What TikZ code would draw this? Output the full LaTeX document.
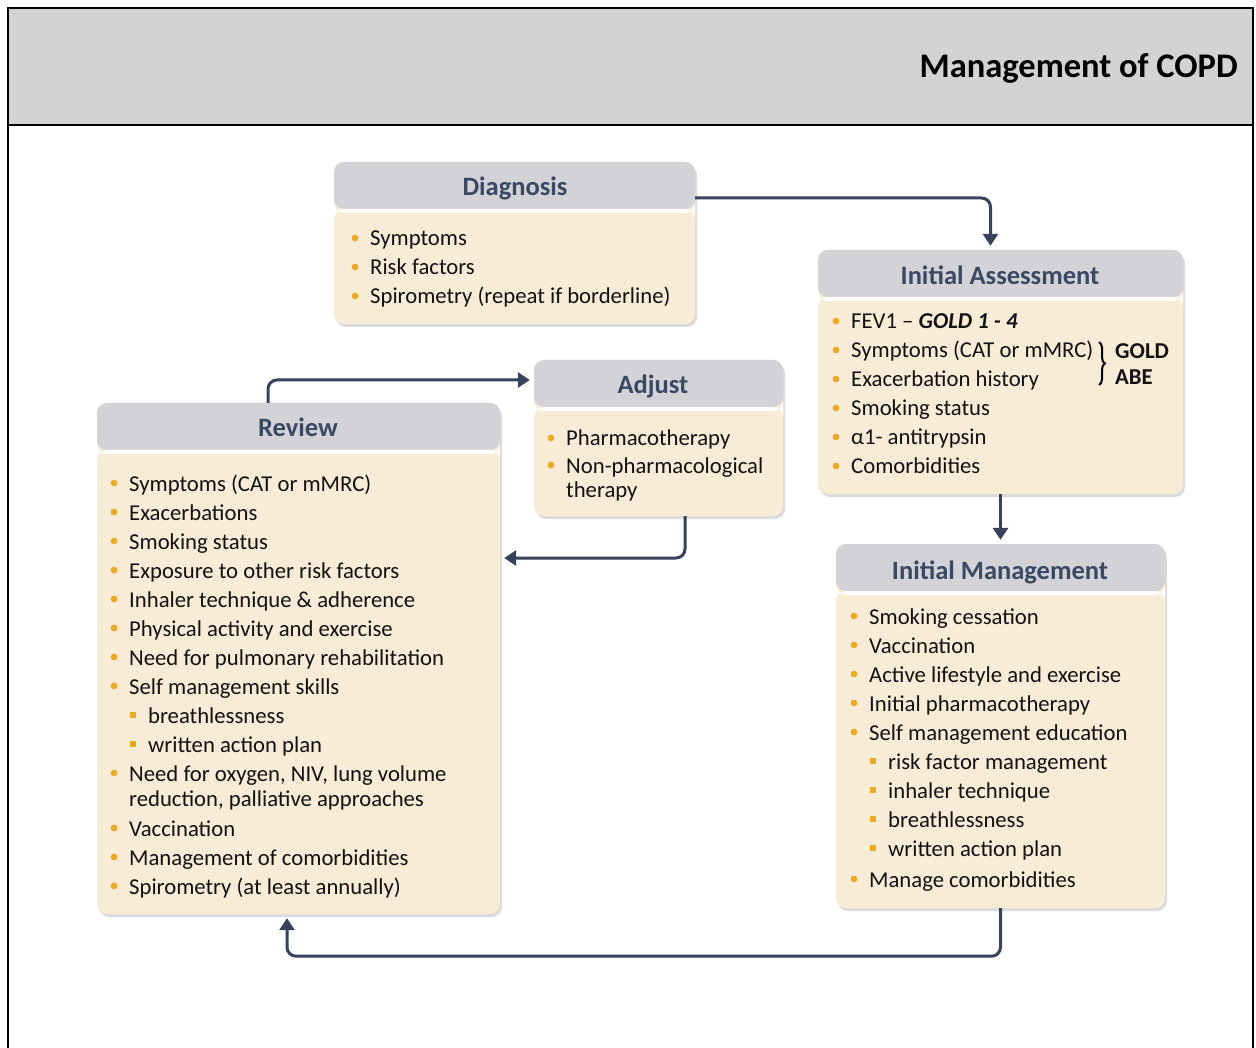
\documentclass[tikz,border=0pt]{standalone}
\usepackage{fontspec}
\setmainfont{Carlito}
\usetikzlibrary{arrows.meta,shadows,decorations.pathreplacing,calc}
\definecolor{hdrc}{HTML}{D2D2D7}
\definecolor{bodyc}{HTML}{F9ECD7}
\definecolor{ttlc}{HTML}{3A4963}
\definecolor{bulc}{HTML}{EBAA22}
\definecolor{arrc}{HTML}{36435A}
\definecolor{topc}{HTML}{D3D3D3}
\definecolor{txtc}{HTML}{111111}
\newcounter{itm}
\newcommand\bitem[3]{\stepcounter{itm}\fill[bulc] (#1,#2) circle (3.4pt);\node[txt] (t\arabic{itm}) at ({#1+15},#2) {#3};}
\newcommand\sitem[3]{\stepcounter{itm}\fill[bulc] ({#1-3},{#2-3}) rectangle ++(6,6);\node[txt] (t\arabic{itm}) at ({#1+15},#2) {#3};}
\newcommand\pitem[3]{\stepcounter{itm}\node[txt] (t\arabic{itm}) at ({#1+15},#2) {#3};}
\tikzset{
  txt/.style={anchor=west, inner sep=0pt, text height=21pt, text depth=5pt, text=txtc, font=\fontsize{22.7}{27}\selectfont},
  ttl/.style={anchor=base, inner sep=0pt, text=ttlc, font=\bfseries\fontsize{26.5}{30}\selectfont},
  box/.style={fill=bodyc, rounded corners=10pt, inner sep=0pt,
    drop shadow={opacity=0.28, shadow xshift=2pt, shadow yshift=-3pt},
    path picture={
      \fill[hdrc] (path picture bounding box.north west) rectangle ([yshift=-47pt]path picture bounding box.north east);
      \fill[white] ([yshift=-47pt]path picture bounding box.north west) rectangle ([yshift=-51pt]path picture bounding box.north east);
    }},
  arr/.style={draw=arrc, line width=3pt, rounded corners=9pt, -{Triangle[width=15pt,length=12pt]}, shorten >=4pt}
}
\begin{document}
\begin{tikzpicture}[x=1pt, y=-1pt]
\useasboundingbox (0,0) rectangle (1256,1048);
% frame
\fill[white] (0,0) rectangle (1256,1048);
\draw[line width=2pt, fill=topc] (8,8) rectangle (1253,125);
\draw[line width=2pt] (8,125) -- (8,1050);
\draw[line width=2pt] (1253,125) -- (1253,1050);
\node[anchor=east, inner sep=0pt, font=\bfseries\fontsize{34.5}{38}\selectfont] (head) at (1238,68) {Management of COPD};
% boxes
\node[box, minimum width=361pt, minimum height=162pt] (diag) at (514.5,243) {};
\node[box, minimum width=365pt, minimum height=244pt] (ia) at (1000.5,372) {};
\node[box, minimum width=249pt, minimum height=156pt] (adj) at (658.5,438) {};
\node[box, minimum width=403pt, minimum height=511pt] (rev) at (298.5,658.5) {};
\node[box, minimum width=329pt, minimum height=364pt] (im) at (1000.5,726) {};
% titles
\node[ttl] (diagT) at (515,196) {Diagnosis};
\node[ttl] (iaT) at (1000,285) {Initial Assessment};
\node[ttl] (adjT) at (653,394) {Adjust};
\node[ttl] (revT) at (298,437) {Review};
\node[ttl] (imT) at (1000,579) {Initial Management};
% Diagnosis
\bitem{355}{238}{Symptoms}
\bitem{355}{267}{Risk factors}
\bitem{355}{296}{Spirometry (repeat if borderline)}
% Initial assessment
\bitem{836}{321}{FEV1 – \textbf{\textit{GOLD 1 - 4}}}
\bitem{836}{350}{Symptoms (CAT or mMRC)}
\bitem{836}{379}{Exacerbation history}
\bitem{836}{408}{Smoking status}
\bitem{836}{437}{α1- antitrypsin}
\bitem{836}{466}{Comorbidities}
\draw[decorate, decoration={brace, amplitude=6pt}, line width=2pt] (1099,342) -- (1099,385);
\node[txt, font=\bfseries\fontsize{22.7}{27}\selectfont] (gold) at (1115,351) {GOLD};
\node[txt, font=\bfseries\fontsize{22.7}{27}\selectfont] (abe) at (1115,377) {ABE};
% Adjust
\bitem{551}{438}{Pharmacotherapy}
\bitem{551}{465}{Non-pharmacological}
\pitem{551}{489}{therapy}
% Review
\bitem{114}{483}{Symptoms (CAT or mMRC)}
\bitem{114}{512}{Exacerbations}
\bitem{114}{541}{Smoking status}
\bitem{114}{570}{Exposure to other risk factors}
\bitem{114}{599}{Inhaler technique \& adherence}
\bitem{114}{628}{Physical activity and exercise}
\bitem{114}{657}{Need for pulmonary rehabilitation}
\bitem{114}{686}{Self management skills}
\sitem{133}{715}{breathlessness}
\sitem{133}{744}{written action plan}
\bitem{114}{773}{Need for oxygen, NIV, lung volume}
\pitem{114}{798}{reduction, palliative approaches}
\bitem{114}{828}{Vaccination}
\bitem{114}{857}{Management of comorbidities}
\bitem{114}{886}{Spirometry (at least annually)}
% Initial management
\bitem{854}{616}{Smoking cessation}
\bitem{854}{645}{Vaccination}
\bitem{854}{674}{Active lifestyle and exercise}
\bitem{854}{703}{Initial pharmacotherapy}
\bitem{854}{732}{Self management education}
\sitem{873}{761}{risk factor management}
\sitem{873}{790}{inhaler technique}
\sitem{873}{819}{breathlessness}
\sitem{873}{848}{written action plan}
\bitem{854}{879}{Manage comorbidities}
% connectors
\coordinate (ya) at (0,198);
\coordinate (yb) at (0,380);
\coordinate (yc) at (0,558);
\draw[arr] (diag.east |- ya) -| ([xshift=-10pt]ia.north);
\draw[arr] (ia.south) -- (im.north);
\draw[arr] (im.south) -- ++(0,48) -| ([xshift=-11.5pt]rev.south);
\draw[arr] ([xshift=-30.5pt]rev.north) |- (adj.west |- yb);
\draw[arr] ([xshift=26.5pt]adj.south) |- (rev.east |- yc);
\end{tikzpicture}
\end{document}
